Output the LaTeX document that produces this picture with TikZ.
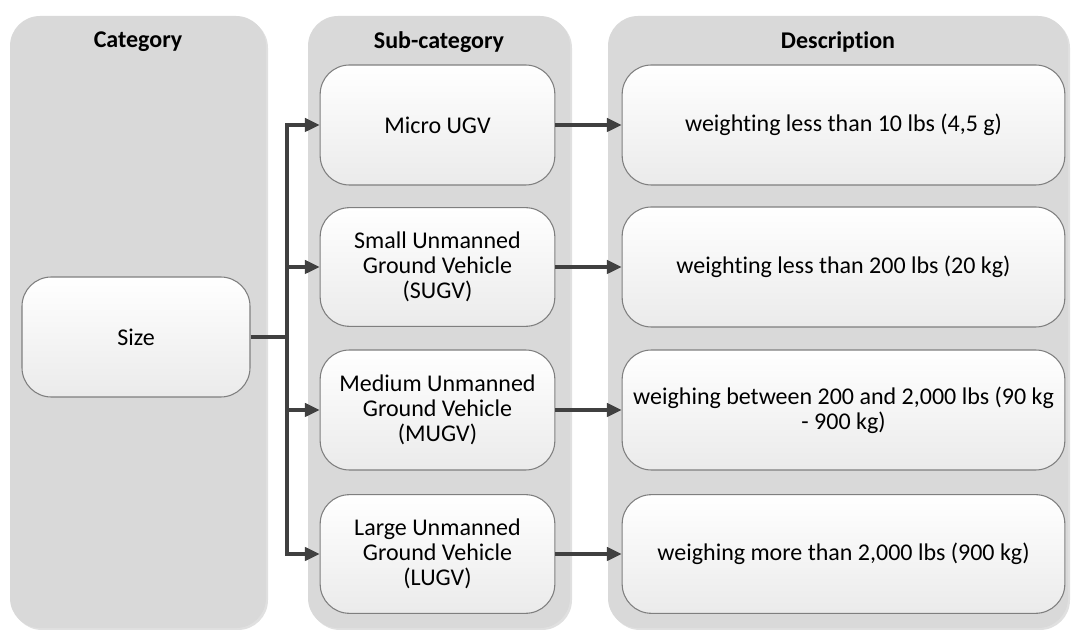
\documentclass[tikz,border=0pt]{standalone}
\usepackage{fontspec}
\setmainfont[RawFeature={-liga;-dlig}]{Carlito}
\usetikzlibrary{arrows.meta,shadows}
\definecolor{colfill}{HTML}{D9D9D9}
\definecolor{boxline}{HTML}{7F7F7F}
\definecolor{arrowc}{HTML}{404040}
\begin{document}
\begin{tikzpicture}[x=0.75pt,y=-0.75pt,
  column/.style={fill=colfill,rounded corners=22.5pt,
    drop shadow={shadow xshift=1.5pt,shadow yshift=-1.5pt,fill=black,opacity=0.12}},
  header/.style={font=\fontsize{18}{20}\selectfont\bfseries},
  itembox/.style={draw=boxline,line width=0.8pt,rounded corners=22pt,
    top color=white,bottom color=black!8,align=center,
    font=\fontsize{18}{18.75}\selectfont,inner sep=0pt},
  conn/.style={draw=arrowc,line width=2.3pt},
  arr/.style={conn,-{Triangle[length=11pt,width=10pt]}}]
\useasboundingbox (0,0) rectangle (1071,630);
% columns
\path[column] (10,16) rectangle (266,628);
\path[column] (308,16) rectangle (570,628);
\path[column] (608,16) rectangle (1068,628);
\node[header] (h1) at (138,42) {Category};
\node[header] (h2) at (439,42) {Sub-category};
\node[header] (h3) at (838,42) {Description};
% category
\node[itembox,minimum width=171pt,minimum height=90pt] (size) at (136,337) {Size};
% sub-categories
\node[itembox,minimum width=176pt,minimum height=90pt] (s1) at (437.5,125) {Micro UGV};
\node[itembox,minimum width=176pt,minimum height=89pt] (s2) at (437.5,267) {Small Unmanned\\Ground Vehicle\\(SUGV)};
\node[itembox,minimum width=176pt,minimum height=90pt] (s3) at (437.5,410) {Medium Unmanned\\Ground Vehicle\\(MUGV)};
\node[itembox,minimum width=176pt,minimum height=89pt] (s4) at (437.5,554) {Large Unmanned\\Ground Vehicle\\(LUGV)};
% descriptions
\node[itembox,minimum width=332pt,minimum height=90pt] (d1) at (843.5,125) {weighting less than 10 lbs (4,5 g)};
\node[itembox,minimum width=332pt,minimum height=90pt] (d2) at (843.5,267) {weighting less than 200 lbs (20 kg)};
\node[itembox,minimum width=332pt,minimum height=90pt] (d3) at (843.5,410) {weighing between 200 and 2,000 lbs (90 kg\\- 900 kg)};
\node[itembox,minimum width=332pt,minimum height=89pt] (d4) at (843.5,554) {weighing more than 2,000 lbs (900 kg)};
% connectors
\coordinate (j) at (287,337);
\draw[conn] (size.east) -- (j);
\draw[arr] (j) |- (s1.west);
\draw[arr] (j) |- (s2.west);
\draw[arr] (j) |- (s3.west);
\draw[arr] (j) |- (s4.west);
\draw[arr] (s1.east) -- (d1.west);
\draw[arr] (s2.east) -- (d2.west);
\draw[arr] (s3.east) -- (d3.west);
\draw[arr] (s4.east) -- (d4.west);
\end{tikzpicture}
\end{document}
